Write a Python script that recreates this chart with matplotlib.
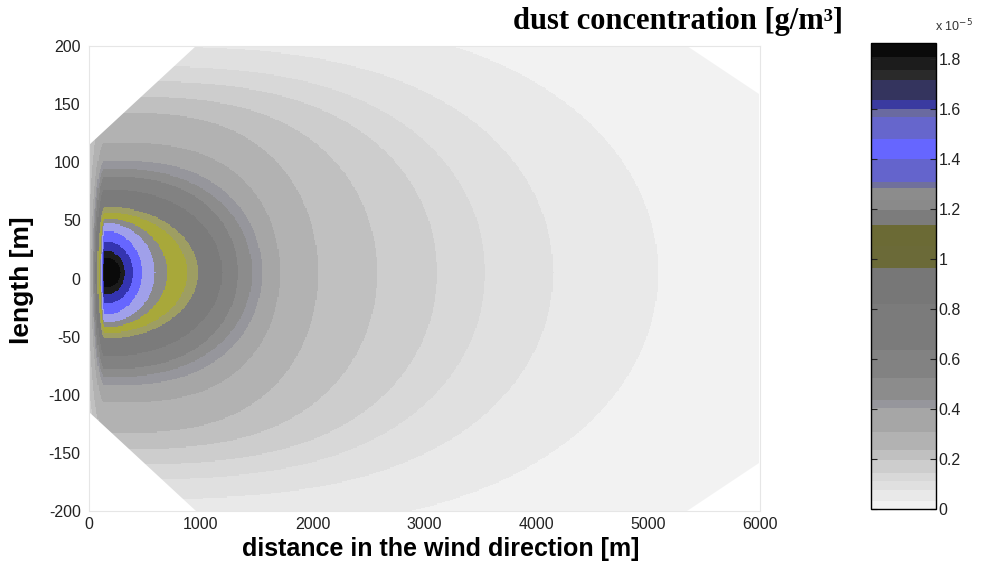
import numpy as np
import matplotlib
matplotlib.use("Agg")
import matplotlib.pyplot as plt
from matplotlib.colors import ListedColormap, BoundaryNorm
from matplotlib.patches import Polygon
from matplotlib.cm import ScalarMappable
from matplotlib.ticker import FuncFormatter

plt.rcParams["axes.unicode_minus"] = False

# Colour scale, concentration in units of 1e-5 g/m3
band_edges = [0.0, 0.03, 0.076, 0.11, 0.144, 0.196, 0.236, 0.308, 0.404, 0.436,
              0.524, 0.636, 0.82, 0.964, 1.05, 1.136, 1.196, 1.236, 1.284, 1.308,
              1.40, 1.48, 1.568, 1.60, 1.636, 1.716, 1.756, 1.808, 1.864]
band_colors = ["#f2f2f2", "#e9e9e9", "#e0e0e0", "#d8d8d8", "#cdcdcd", "#c0c0c0",
               "#b2b2b2", "#a6a6a6", "#96969c", "#8c8c8c", "#828282", "#7b7b7b",
               "#777777", "#6b6a38", "#6b6a35", "#7c7c7c", "#8a8a8a", "#8c8c8c",
               "#70709c", "#6464cc", "#6666ff", "#6666cc", "#6a6aa0", "#3a3aa0",
               "#34345e", "#2a2a2a", "#1c1c1c", "#0a0a0a"]
# Filled-contour shades that differ from the colour bar (highlighted contours)
map_color_overrides = {13: "#9e9e62", 14: "#a8a83a", 19: "#a0a0ea", 23: "#3434b0"}

# Plume contours: concentration inside each contour, downwind reach on the
# plume axis [m], lateral half-width [m] and bluntness of the contour outline
contour_levels = [0.05, 0.09, 0.13, 0.17, 0.22, 0.27, 0.35, 0.42, 0.48, 0.58,
                  0.72, 1.0, 1.1, 1.22, 1.35, 1.44, 1.62, 1.78, 1.84]
contour_reach = [5089, 4150, 3542, 3113, 2576, 2048, 1708, 1547, 1458, 1333,
                 1190, 975, 877, 698, 590, 474, 394, 322, 280]
contour_half_width = [225, 195, 178, 165, 152, 138, 112, 97, 90, 83,
                      72, 57, 52, 47, 43, 36, 27, 19, 13]
contour_bluntness = [3.0, 3.0, 3.0, 3.0, 3.0, 3.0, 3.0, 2.7, 2.5, 2.5,
                     2.2, 2.0, 2.0, 2.0, 2.0, 2.0, 2.0, 2.0, 2.0]
background_level = 0.015
source_x = 143.0
source_y = 5.0
upwind_ratio = 0.08

# Outline of the computational domain [m]
domain_x = [0, 960, 5350, 5990, 5990, 5350, 960, 0]
domain_y = [115, 200, 200, 159, -159, -200, -200, -115]

x_ticks = [0, 1000, 2000, 3000, 4000, 5000, 6000]
y_ticks = [-200, -150, -100, -50, 0, 50, 100, 150, 200]
cbar_ticks = [0, 0.2, 0.4, 0.6, 0.8, 1.0, 1.2, 1.4, 1.6, 1.8]

# Concentration field assembled from the contour outlines
xg = np.arange(-100, 6100, 10.0)
yg = np.arange(-210, 211, 1.0)
X, Y = np.meshgrid(xg, yg)
field = np.full(X.shape, background_level)
contours = sorted(zip(contour_levels, contour_reach, contour_half_width,
                      contour_bluntness))
for lvl, reach, hw, p in contours:
    a_down = reach - source_x
    down = X >= source_x
    dx_down = np.abs((X - source_x) / a_down) ** p
    dx_up = ((X - source_x) / (upwind_ratio * a_down)) ** 2
    dist = np.where(down, dx_down, dx_up) + ((Y - source_y) / hw) ** 2
    field = np.where(dist <= 1.0, np.maximum(field, lvl), field)

map_colors = [map_color_overrides.get(i, c) for i, c in enumerate(band_colors)]
norm = BoundaryNorm(band_edges, len(band_colors))
map_cmap = ListedColormap(map_colors)
bar_cmap = ListedColormap(band_colors)

fig = plt.figure(figsize=(9.87, 5.73), dpi=100)
ax = fig.add_axes([0.0902, 0.1082, 0.6798, 0.8115])
mesh = ax.pcolormesh(xg, yg, field, cmap=map_cmap, norm=norm, shading="nearest")
domain = Polygon(np.column_stack([domain_x, domain_y]), closed=True,
                 transform=ax.transData, facecolor="none", edgecolor="none")
ax.add_patch(domain)
mesh.set_clip_path(domain)

ax.set_xlim(0, 6000)
ax.set_ylim(-200, 200)
ax.set_xticks(x_ticks)
ax.set_yticks(y_ticks)
ax.tick_params(length=0, labelsize=11.5, colors="#222222")
ax.tick_params(axis="x", pad=4)
ax.tick_params(axis="y", pad=6)
for lab in ax.get_xticklabels() + ax.get_yticklabels():
    lab.set_family("Liberation Sans")
for sp in ax.spines.values():
    sp.set_color("#e6e6e6")
    sp.set_linewidth(0.8)

# Colour bar
cax = fig.add_axes([0.8825, 0.1117, 0.0659, 0.8133])
sm = ScalarMappable(norm=norm, cmap=bar_cmap)
cb = fig.colorbar(sm, cax=cax, boundaries=band_edges, spacing="proportional",
                  ticks=cbar_ticks)
cb.outline.set_linewidth(1.0)
cb.ax.yaxis.set_major_formatter(FuncFormatter(lambda v, p: "%g" % round(v, 1)))
cb.ax.minorticks_off()
cb.ax.tick_params(which="major", direction="in", left=True, right=True,
                  length=4, width=0.8, labelsize=11.5, pad=2, colors="#222222")
for lab in cb.ax.get_yticklabels():
    lab.set_family("Liberation Sans")
fig.text(0.947, 0.94, r"x 10$^{-5}$", fontsize=9, ha="left", va="bottom",
         family="Liberation Sans", color="#333333")

fig.text(0.854, 0.962, "dust concentration [g/m³]", ha="right", va="center",
         family="Liberation Serif", fontweight="bold", fontsize=22)
fig.text(0.446, 0.042, "distance in the wind direction [m]", ha="center",
         va="center", family="Liberation Sans", fontweight="bold", fontsize=18)
fig.text(0.022, 0.511, "length [m]", ha="center", va="center", rotation=90,
         family="Liberation Sans", fontweight="bold", fontsize=19)

fig.savefig("out.png", dpi=100)
